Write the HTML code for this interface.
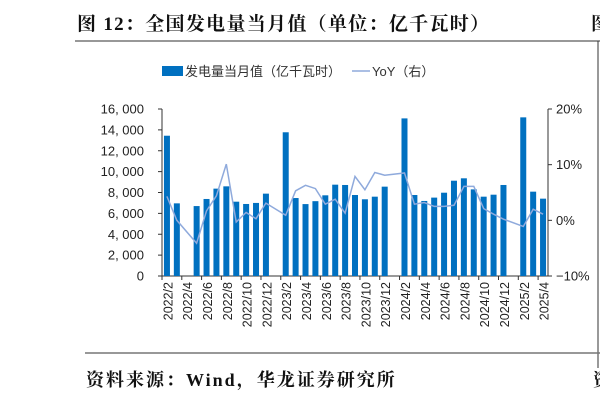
<!DOCTYPE html>
<html><head><meta charset="utf-8"><style>
body{margin:0;background:#fff;}
svg{display:block;font-family:"Liberation Sans","Noto Sans CJK SC",sans-serif;}
</style></head><body>
<svg id="chart" width="600" height="402" viewBox="0 0 600 402">
<text x="77" y="30" font-family="Liberation Serif,'Noto Serif CJK SC',serif" font-weight="bold" font-size="19" letter-spacing="1.3" fill="#111">图 12：全国发电量当月值（单位：亿千瓦时）</text>
<text x="591" y="30" font-family="Liberation Serif,'Noto Serif CJK SC',serif" font-weight="bold" font-size="18" fill="#111">图</text>
<line x1="75" y1="41" x2="600" y2="41" stroke="#777" stroke-width="1.5"/>
<line x1="598" y1="41" x2="598" y2="368" stroke="#333" stroke-width="1"/>
<g>
<rect x="162" y="66" width="21" height="10" fill="#0070c0"/>
<text x="185" y="76" font-size="13" fill="#333">发电量当月值（亿千瓦时）</text>
<line x1="352" y1="71" x2="370" y2="71" stroke="#8faadc" stroke-width="1.5"/>
<text x="372" y="76" font-size="13" fill="#333">YoY（右）</text>
</g>
<g id="plot"></g>
<line x1="85" y1="353" x2="600" y2="353" stroke="#777" stroke-width="1.5"/>
<text x="86" y="386" font-family="Liberation Serif,'Noto Serif CJK SC',serif" font-weight="bold" font-size="18" letter-spacing="2" fill="#111">资料来源：Wind，华龙证券研究所</text>
<text x="593" y="386" font-family="Liberation Serif,'Noto Serif CJK SC',serif" font-weight="bold" font-size="18" fill="#111">资</text>
</svg>
<script>
const months = [];
for (let y = 2022; y <= 2025; y++) for (let m = (y===2022?2:1); m <= 12; m++) { if (y===2025 && m>4) break; months.push(y+'/'+m); }
const volumes = [13440,6960,null,6700,7380,8370,8590,7120,6900,7000,7890,
 null,13770,7470,6890,7170,7730,8750,8720,7760,7350,7600,8560,
 null,15100,7760,7190,7510,7980,9130,9360,8300,7600,7790,8720,
 null,15200,8080,7410];
const yoy = [4.3,0.0,null,-4.1,1.7,4.4,10.1,-0.3,1.4,0.3,3.1,
 null,0.9,5.3,6.3,5.7,2.9,3.8,1.3,7.9,5.5,8.6,8.1,
 null,8.5,2.9,3.2,2.5,2.5,2.7,6.1,6.1,2.1,1.1,0.2,
 null,-1.1,2.0,1.1];
const leftTicks = [0,2000,4000,6000,8000,10000,12000,14000,16000];
const rightTicks = [-10,0,10,20];

const NS='http://www.w3.org/2000/svg';
const g=document.getElementById('plot');
const X0=162,X1=548,Y0=276,Y1=109;
const slot=(X1-X0)/months.length;
const xc=i=>X0+slot*(i+0.5);
const yL=v=>Y0-(v/16000)*(Y0-Y1);
const yR=p=>Y0-((p+10)/30)*(Y0-Y1);
function mk(tag,attrs){const e=document.createElementNS(NS,tag);for(const k in attrs)e.setAttribute(k,attrs[k]);g.appendChild(e);return e;}
let a=mk('line',{x1:X0,y1:Y1,x2:X0,y2:Y0,stroke:'#333'});


a=mk('line',{x1:X1,y1:Y1,x2:X1,y2:Y0,stroke:'#333'});


a=mk('line',{x1:X0,y1:Y0,x2:X1,y2:Y0,stroke:'#333'});


leftTicks.forEach(v=>{
 const y=yL(v);
 const t=mk('line',{x1:X0-4,y1:y,x2:X0,y2:y,stroke:'#333'});
 
 
 const l=mk('text',{x:X0-18,y:y+4.5,'text-anchor':'end','font-size':13,fill:'#222'});
 l.textContent=v.toLocaleString('en-US').replace(',',', ');
 
 
});
rightTicks.forEach(p=>{
 const y=yR(p);
 const t=mk('line',{x1:X1,y1:y,x2:X1+4,y2:y,stroke:'#333'});
 
 
 const l=mk('text',{x:X1+8,y:y+4.5,'font-size':13,fill:'#222'});
 l.textContent=(p<0?'\u2212'+(-p):p)+'%';
 
 
});
volumes.forEach((v,i)=>{
 if(v==null)return;
 const r=mk('rect',{x:xc(i)-3,y:yL(v),width:6,height:Y0-yL(v),fill:'#0070c0'});
 
 
});
months.forEach((m,i)=>{
 if(i%2!==0)return;
 const x=X0+slot*i;
 const t=mk('line',{x1:x,y1:Y0,x2:x,y2:Y0+4,stroke:'#333'});
 
 
 const cx=xc(i)+1;
 const l=mk('text',{x:cx,y:282,'text-anchor':'end','font-size':12.5,fill:'#222',transform:`rotate(-90 ${cx} 282)`});
 l.setAttribute('dy','4.5');
 l.textContent=m;
 
 
});
let d='';
yoy.forEach((p,i)=>{ if(p==null)return; d+=(d?'L':'M')+xc(i).toFixed(1)+','+yR(p).toFixed(1); });
const pl=mk('path',{d:d,fill:'none',stroke:'#8faadc','stroke-width':1.5});


</script>
</body></html>
